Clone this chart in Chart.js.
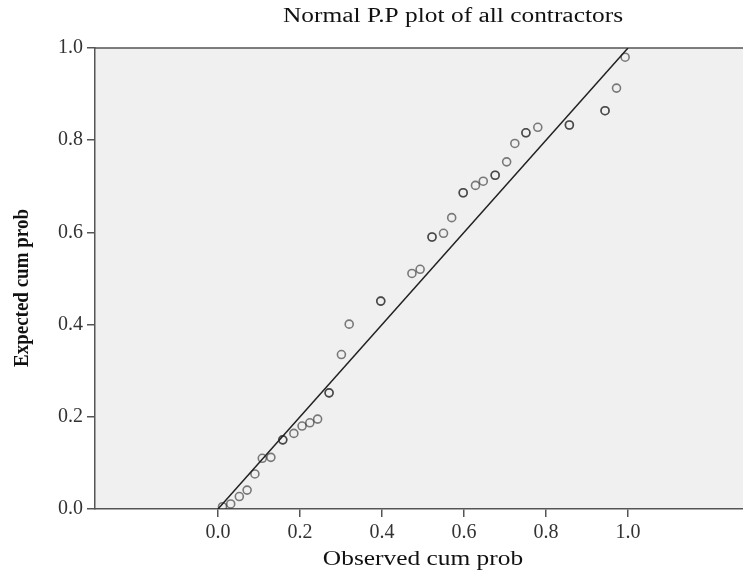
<!DOCTYPE html>
<html>
<head>
<meta charset="utf-8">
<script src="https://cdn.jsdelivr.net/npm/chart.js@4"></script>
<style>
    html, body { margin: 0; padding: 0; background: #ffffff; overflow: hidden; }
    #wrap { width: 743px; height: 577px; position: relative; }
</style>
</head>
<body>
<div id="wrap"><canvas id="ppChart"></canvas></div>
<script>
// Observed vs expected cumulative probabilities (tied cases listed twice)
const observed = [0.011, 0.031, 0.052, 0.071, 0.090, 0.108, 0.129, 0.158, 0.158, 0.185,
    0.205, 0.224, 0.243, 0.271, 0.271, 0.301, 0.320, 0.397, 0.397, 0.473,
    0.493, 0.522, 0.522, 0.550, 0.570, 0.598, 0.598, 0.628, 0.647, 0.676,
    0.676, 0.704, 0.724, 0.751, 0.751, 0.780, 0.857, 0.857, 0.944, 0.944,
    0.972, 0.993];
const expected = [0.005, 0.011, 0.027, 0.041, 0.076, 0.110, 0.112, 0.150, 0.150, 0.164,
    0.180, 0.187, 0.195, 0.252, 0.252, 0.335, 0.401, 0.451, 0.451, 0.511,
    0.520, 0.590, 0.590, 0.598, 0.632, 0.686, 0.686, 0.702, 0.711, 0.724,
    0.724, 0.753, 0.793, 0.816, 0.816, 0.828, 0.833, 0.833, 0.864, 0.864,
    0.913, 0.980];
const refLine = [0, 1];
const tickValues = [0, 0.2, 0.4, 0.6, 0.8, 1.0];

const serif = "'Liberation Serif', 'DejaVu Serif', serif";

// draw text squeezed wider, the source picture is stretched sideways
function wideText(ctx, text, x, y, font, stretch, rotate) {
    ctx.save();
    ctx.translate(x, y);
    if (rotate) ctx.rotate(-Math.PI / 2);
    ctx.scale(rotate ? 1 : stretch, rotate ? stretch : 1);
    ctx.font = font;
    ctx.fillStyle = '#111111';
    ctx.textAlign = 'center';
    ctx.textBaseline = 'middle';
    ctx.fillText(text, 0, 0);
    ctx.restore();
}

// Plot background, top frame line and the titles
const framePlugin = {
    id: 'frame',
    beforeDraw(chart) {
        const { ctx, chartArea: a } = chart;
        ctx.save();
        ctx.fillStyle = '#f0f0f0';
        ctx.fillRect(a.left, a.top, chart.width - a.left, a.bottom - a.top);
        ctx.strokeStyle = '#555555';
        ctx.lineWidth = 1.5;
        ctx.beginPath();
        ctx.moveTo(a.left, a.top);
        ctx.lineTo(chart.width, a.top);
        ctx.stroke();
        ctx.restore();
    },
    afterDraw(chart) {
        const ctx = chart.ctx;
        const x = chart.scales.x;
        wideText(ctx, 'Normal P.P plot of all contractors', 453, 17, '20px ' + serif, 1.27, false);
        wideText(ctx, 'Observed cum prob', (x.getPixelForValue(0) + x.getPixelForValue(1)) / 2, 560,
            '20px ' + serif, 1.27, false);
        wideText(ctx, 'Expected cum prob', 22, 288, 'bold 19px ' + serif, 1.15, true);
    }
};

new Chart(document.getElementById('ppChart'), {
    type: 'scatter',
    data: {
        datasets: [{
            label: 'Cases',
            data: observed.map((v, i) => ({ x: v, y: expected[i] })),
            pointStyle: 'circle',
            pointRadius: 4,
            pointBorderWidth: 1.6,
            borderColor: 'rgba(40, 40, 40, 0.6)',
            backgroundColor: 'rgba(0, 0, 0, 0)',
            order: 2
        }, {
            type: 'line',
            label: 'Reference',
            data: refLine.map(v => ({ x: v, y: v })),
            borderColor: '#222222',
            borderWidth: 1.5,
            pointRadius: 0,
            fill: false,
            order: 1
        }]
    },
    options: {
        responsive: true,
        maintainAspectRatio: false,
        animation: false,
        layout: { autoPadding: false, padding: { top: 48, right: 0, left: 0, bottom: 0 } },
        plugins: {
            legend: { display: false },
            tooltip: { enabled: false }
        },
        scales: {
            x: {
                type: 'linear',
                min: -0.3,
                max: 1.2805,
                afterBuildTicks: (scale) => { scale.ticks = tickValues.map(v => ({ value: v })); },
                afterFit: (scale) => { scale.height = 68; },
                grid: { drawOnChartArea: false, drawTicks: true, tickLength: 8, color: '#555555', lineWidth: 1.5 },
                border: { display: true, color: '#555555', width: 1.5 },
                ticks: {
                    padding: 4,
                    color: '#333333',
                    font: { family: serif, size: 20 },
                    maxRotation: 0,
                    callback: (v) => Number(v).toFixed(1)
                }
            },
            y: {
                type: 'linear',
                min: 0,
                max: 1,
                afterBuildTicks: (scale) => { scale.ticks = tickValues.map(v => ({ value: v })); },
                afterFit: (scale) => { scale.width = 95; },
                grid: { drawOnChartArea: false, drawTicks: true, tickLength: 8, color: '#555555', lineWidth: 1.5 },
                border: { display: true, color: '#555555', width: 1.5 },
                ticks: {
                    padding: 4,
                    color: '#333333',
                    font: { family: serif, size: 20 },
                    callback: (v) => Number(v).toFixed(1)
                }
            }
        }
    },
    plugins: [framePlugin]
});
</script>
</body>
</html>
